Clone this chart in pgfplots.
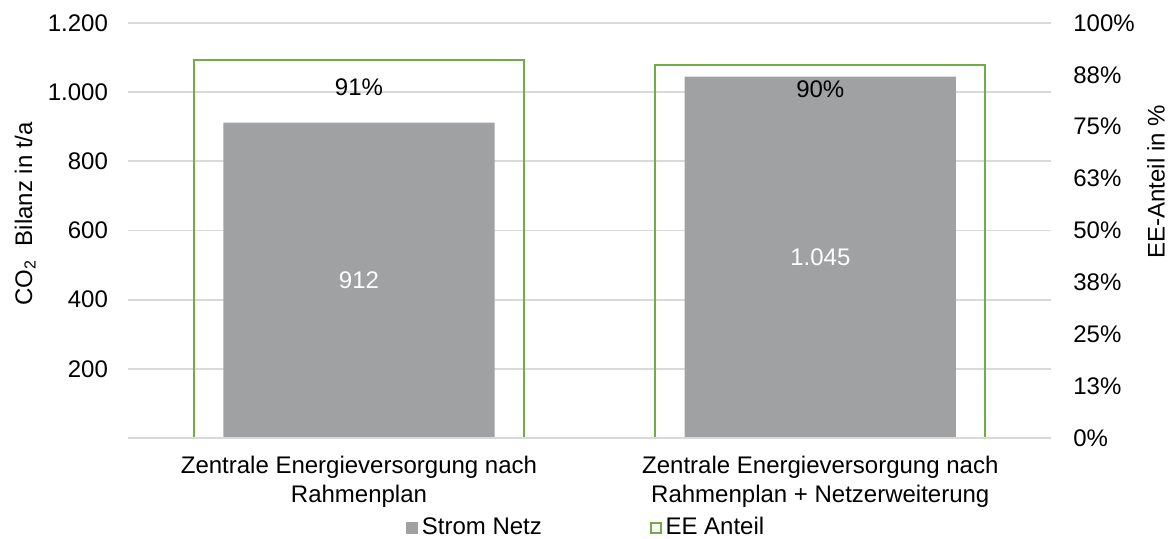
\documentclass[border=0pt]{standalone}
\usepackage{fontspec}
\setmainfont{Liberation Sans}
\usepackage{pgfplots}
\pgfplotsset{compat=1.18}
\definecolor{barg}{HTML}{A0A1A3}
\definecolor{eeg}{HTML}{70AD47}
\definecolor{gridg}{HTML}{D9D9D9}
\begin{document}
\fontsize{12}{14.5}\selectfont
\begin{tikzpicture}
\useasboundingbox (0,0) rectangle (584.5pt,269pt);
\pgfplotsset{
  base/.style={
    at={(64.15pt,50pt)}, anchor=south west,
    scale only axis, width=461.35pt, height=207.5pt,
    xmin=-0.5, xmax=1.5,
    /pgf/number format/assume math mode=true,
    tick label style={font=\fontsize{12}{14.5}\selectfont},
    label style={font=\fontsize{12}{14.5}\selectfont},
    major tick length=0pt,
  }
}
\begin{axis}[base,
  ymin=0, ymax=1200,
  xtick={0,1},
  xticklabels={{Zentrale Energieversorgung nach\\Rahmenplan},{Zentrale Energieversorgung nach\\Rahmenplan + Netzerweiterung}},
  xticklabel style={align=center, yshift=-5pt},
  ytick={0,200,...,1200},
  yticklabels={,200,400,600,800,1.000,1.200},
  yticklabel style={xshift=-6pt},
  ymajorgrids, grid style={gridg, line width=0.9pt},
  axis line style={draw=none},
  ylabel={CO\textsubscript{2}\ \ Bilanz in t/a},
  ylabel style={at={(axis description cs:-0.1117,0.54)}, anchor=center},
]
\addplot[ybar, bar width=0.588, fill=barg, draw=none] coordinates {(0,912) (1,1045)};
\node[white] at (axis cs:0,456) {912};
\node[white] at (axis cs:1,522.5) {1.045};
\end{axis}
\begin{axis}[base,
  ymin=0, ymax=100,
  axis x line*=bottom, axis y line*=right,
  axis line style={-},
  x axis line style={gridg, line width=1pt},
  y axis line style={draw=none},
  xtick=\empty,
  ytick={0,12.5,25,37.5,50,62.5,75,87.5,100},
  yticklabels={0\%,13\%,25\%,38\%,50\%,63\%,75\%,88\%,100\%},
  yticklabel style={xshift=7pt},
  axis on top,
  ylabel={EE-Anteil in \%},
  ylabel style={at={(axis description cs:1.1139,0.617)}, anchor=center, rotate=0},
  legend style={at={(axis description cs:0.497,-0.217)}, anchor=center, draw=none,
    font=\fontsize{12}{14.5}\selectfont, /tikz/every even column/.append style={column sep=52pt}},
  legend columns=2,
]
\addlegendimage{legend image code/.code={\fill[barg] (0pt,-2.9pt) rectangle (5.8pt,2.9pt);}}
\addlegendentry{Strom Netz}
\addplot[ybar, bar width=0.715, fill=none, draw=eeg, line width=1pt,
  legend image code/.code={\draw[eeg, line width=1pt] (0.5pt,-2.4pt) rectangle (5.3pt,2.4pt);}]
  coordinates {(0,91) (1,90)};
\addlegendentry{EE Anteil}
\node at (axis cs:0,84.5) {91\%};
\node at (axis cs:1,84.0) {90\%};
\end{axis}
\end{tikzpicture}
\end{document}
